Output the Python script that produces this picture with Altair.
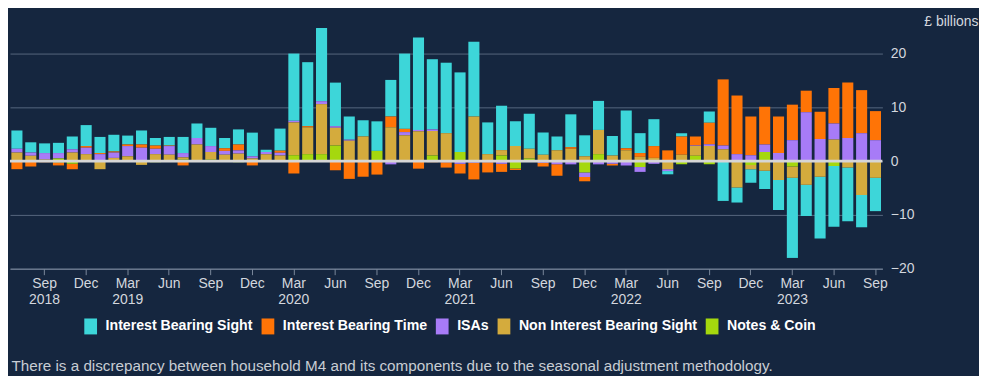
import altair as alt
import pandas as pd

# Months (Jul 2018 .. Sep 2023)
month_names = ["Jan", "Feb", "Mar", "Apr", "May", "Jun", "Jul", "Aug", "Sep", "Oct", "Nov", "Dec"]
all_months = [f"{m} {y}" for y in range(2018, 2024) for m in month_names]
months = all_months[all_months.index("Jul 2018"): all_months.index("Sep 2023") + 1]
quarter_ticks = [m for m in months if m[:3] in ("Mar", "Jun", "Sep", "Dec")]

series = ["Interest Bearing Sight", "Interest Bearing Time", "ISAs",
          "Non Interest Bearing Sight", "Notes & Coin"]
colors = ["#3dd6d9", "#ff7406", "#a77bf7", "#d4ab3d", "#a5d80e"]

# £ billions, monthly flows
ibs = [3.4, 1.9, 1.8, 1.9, 2.4, 3.9, 3.0, 3.1, 1.65, 2.6, 1.4, 1.6, 3.0, 2.7, 3.4, 1.9,
       2.8, 4.4, 0.4, 4.1, 12.5, 11.9, 13.6, 8.1, 4.3, 3.0, 5.5, 6.8, 14.0, 17.2, 13.05,
       13.1, 14.8, 13.9, 5.9, 8.25, 4.6, 6.5, 4.1, 2.6, 6.1, 3.9, 5.4, 3.6, 7.0, 3.7,
       5.0, -0.6, 0.6, 0.0, 2.1, -7.4, -2.8, -2.5, -3.4, -5.6, -14.9, -5.8, -11.5,
       -11.3, -10.0, -6.0, -6.2]
ibt = [-1.5, -1.0, -0.2, -0.5, -1.0, 0.3, 0.2, 0.2, 0.3, 0.6, 0.6, 0.1, -0.8, 0.0, 0.0, 0.5,
       1.1, -0.8, 0.0, 0.4, -2.3, 0.2, 0.0, -1.7, -3.3, -2.9, -2.5, 2.0, 0.6, -1.4, -0.2,
       -1.0, -1.8, -3.1, -1.9, -1.5, -0.3, 0.0, -0.7, -2.1, 0.3, -0.8, 0.0, -0.3, 0.4, 0.7,
       2.2, 2.0, 3.4, 1.7, 4.0, 12.3, 10.9, 7.2, 7.0, 6.8, 6.6, 4.0, 5.1, 6.6, 10.3, 8.0,
       5.4]
isa = [0.7, 0.6, 1.2, 1.0, 0.6, 1.2, 1.3, 1.0, 1.9, 2.5, 1.0, 1.6, 0.8, 1.2, 1.1, 0.7,
       0.6, 0.4, 0.4, 0.5, 0.3, 0.0, 0.55, 0.3, 0.2, 0.0, 0.0, -0.6, 0.6, 0.25, 0.3,
       -0.2, -0.5, -0.3, -0.2, -0.5, 0.0, 0.0, -0.3, -0.6, -0.6, -0.85, -0.6, -0.5, -0.8,
       -0.9, -0.5, -0.35, 0.0, 0.1, 0.35, 0.7, 1.3, 1.1, 1.4, 1.5, 3.9, 9.1, 4.1, 3.0,
       4.3, 5.2, 3.9]
nibs = [1.6, 1.0, 0.3, -0.3, 1.6, 1.3, -1.5, 0.6, 0.9, -0.7, 1.3, 1.2, 0.4, 3.1, 1.4, 1.2,
        1.4, 0.5, 1.3, 1.05, 6.1, 5.0, 9.3, 3.3, 3.8, 4.6, 0.0, 6.3, 4.8, 5.55, 4.55,
        5.2, 0.0, 8.3, 1.3, 1.0, 2.8, 1.8, 1.2, 2.0, 2.3, 0.9, 4.5, 1.05, 2.0, 0.8, 0.6,
        -1.5, 1.2, 1.8, 2.8, 2.2, -4.9, -0.8, -1.8, -3.5, -2.1, -4.4, -2.9, 4.0, -1.2,
        -6.3, -3.1]
notes = [0.0, 0.0, 0.0, 0.5, -0.5, 0.0, 0.0, 0.0, 0.0, 0.0, -0.2, 0.0, 0.3, 0.0, 0.3, 0.0,
         -0.2, 0.0, 0.0, 0.0, 1.1, 1.3, 1.3, 2.9, 0.0, 0.0, 1.9, 0.0, 0.0, 0.0, 1.05,
         0.0, 1.7, 0.0, 0.0, 1.05, -1.35, 0.5, 0.0, 0.0, 0.0, -2.1, 1.3, 0.0, 0.0, -1.1,
         0.0, 0.0, -0.6, 1.0, -0.6, 0.0, 0.0, -0.7, 1.7, 0.0, -1.0, 0.0, 0.0, -0.9, 0.0,
         0.0, 0.0]

values_by_series = [ibs, ibt, isa, nibs, notes]
stack_rank = {s: r for s, r in zip(series, [5, 4, 3, 2, 1])}

rows = []
for s, vals in zip(series, values_by_series):
    for m, v in zip(months, vals):
        rows.append({"month": m, "series": s, "value": v, "rank": stack_rank[s]})
df = pd.DataFrame(rows)

FONT = "Liberation Sans"
LIGHT = "#d3d7de"

label_expr = ("datum.value == 'Sep 2018' || slice(datum.value, 0, 3) == 'Mar' "
              "? split(datum.value, ' ') : slice(datum.value, 0, 3)")

bars = alt.Chart(df).mark_bar().encode(
    x=alt.X(
        "month:O", sort=months,
        scale=alt.Scale(paddingInner=0.2, paddingOuter=0.1),
        axis=alt.Axis(
            values=quarter_ticks, labelExpr=label_expr, labelAngle=0,
            labelColor=LIGHT, labelFontSize=14, labelFont=FONT, labelPadding=2,
            labelLineHeight=16,
            domain=True, domainColor="#7b889b", ticks=True, tickColor="#7b889b",
            tickSize=6, grid=False,
            title="There is a discrepancy between household M4 and its components due to the seasonal adjustment methodology.",
            titleX=1, titleY=102, titleAlign="left", titleAnchor="start",
            titleBaseline="alphabetic", titleFontWeight="normal", titleFontSize=15.3,
            titleFont=FONT, titleColor="#c8cdd4", titleLimit=980,
        ),
    ),
    y=alt.Y(
        "value:Q", stack="zero",
        scale=alt.Scale(domain=[-20, 25], nice=False, zero=True),
        axis=alt.Axis(
            orient="right", values=[-20, -10, 0, 10, 20], grid=True,
            gridColor="#56667e", gridWidth=1, domain=False, ticks=False,
            labelColor=LIGHT, labelFontSize=14, labelFont=FONT, labelPadding=8,
            labelAlign="left", labelBaseline="middle",
            title="£ billions", titleAngle=0, titleX=96, titleY=-5,
            titleAlign="right", titleBaseline="middle", titleFontWeight="normal",
            titleFontSize=14, titleFont=FONT, titleColor=LIGHT,
        ),
    ),
    color=alt.Color(
        "series:N",
        scale=alt.Scale(domain=series, range=colors),
        legend=alt.Legend(
            orient="none", legendX=73, legendY=293, direction="horizontal",
            title=None, symbolType="M-0.8,-1H0.8V1H-0.8Z", symbolSize=256,
            symbolStrokeWidth=0, symbolOpacity=1, labelFontSize=14.2,
            labelFontWeight="bold", labelColor="#ffffff", labelFont=FONT,
            labelOffset=7, columnPadding=7, labelLimit=400,
        ),
    ),
    order=alt.Order("rank:Q", sort="ascending"),
)

zero_line = alt.Chart(pd.DataFrame({"z": [0]})).mark_rule(
    color="#d6d6d6", strokeWidth=3
).encode(y="z:Q")

chart = alt.layer(bars, zero_line).properties(
    width=876, height=243,
    autosize=alt.AutoSizeParams(type="none"),
    padding={"left": 2, "top": 18, "right": 97, "bottom": 107},
    background="#15263f",
).configure_view(stroke=None)

chart.save("out.html", embed_options={"renderer": "svg", "actions": False})
